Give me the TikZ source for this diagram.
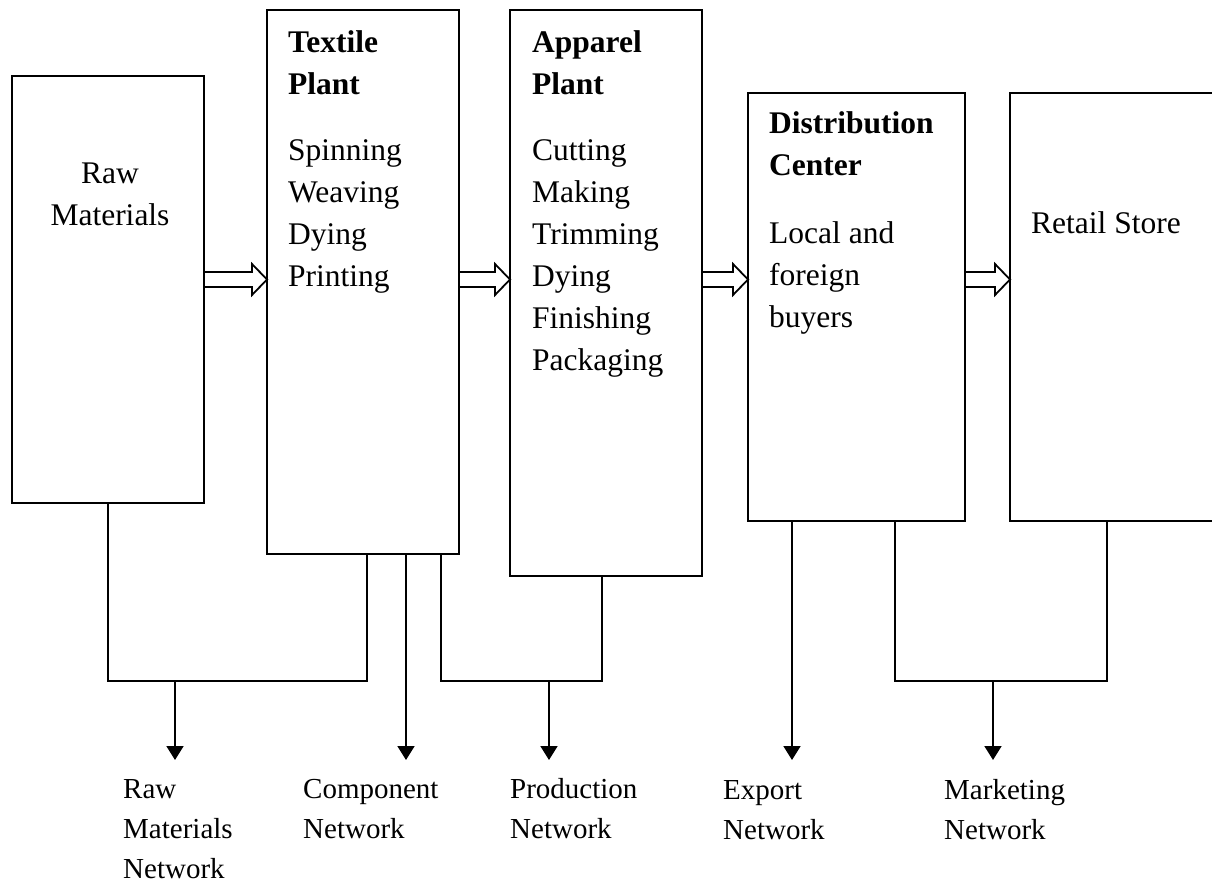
\documentclass[tikz,border=0pt]{standalone}
\usepackage{fontspec}
\setmainfont{Liberation Serif}
\usetikzlibrary{arrows.meta,calc}
% stacked lines, baseline of the node = baseline of the first line
\newcommand{\lines}[2][l]{\begin{tabular}[t]{@{}#1@{}}#2\end{tabular}}
% hollow block arrow from the right side of #1 to the left side of #2
\newcommand{\flow}[2]{%
  \draw[hollow] (#1.east |- 0,272)
    -- ($(#2.west |- 0,272)+(-15,0)$)
    -- ($(#2.west |- 0,264)+(-15,0)$)
    -- (#2.west |- 0,279.5)
    -- ($(#2.west |- 0,295)+(-15,0)$)
    -- ($(#2.west |- 0,287)+(-15,0)$)
    -- (#1.east |- 0,287);}

\begin{document}
\begin{tikzpicture}[x=1pt,y=-1pt,
  stage/.style={draw, line width=1.8pt, rectangle, anchor=north west, inner sep=0pt, outer sep=0pt},
  txt/.style={anchor=base west, inner sep=0pt, font=\fontsize{31.5}{42}\selectfont},
  head/.style={txt, font=\fontsize{31.5}{41.5}\selectfont\bfseries},
  lab/.style={txt, font=\fontsize{29}{40}\selectfont},
  link/.style={line width=1.8pt},
  netarrow/.style={link, -{Triangle[width=17pt,length=14pt]}},
  hollow/.style={line width=1.8pt, line join=miter}
]
\useasboundingbox (0,0) rectangle (1212,882);

% stage boxes
\node[stage, minimum width=192pt, minimum height=427pt] (raw) at (12,76) {};
\node[stage, minimum width=192pt, minimum height=544pt] (tex) at (267,10) {};
\node[stage, minimum width=192pt, minimum height=566pt] (app) at (510,10) {};
\node[stage, minimum width=217pt, minimum height=428pt] (dis) at (748,93) {};
\node[stage, minimum width=222pt, minimum height=428pt] (ret) at (1010,93) {};

% texts inside the boxes
\node[txt, anchor=base] (rawt) at (110,184) {\lines[c]{Raw\\Materials}};
\node[head] (texh) at (288,53) {\lines{Textile\\Plant}};
\node[txt] (texs) at (288,161) {\lines{Spinning\\Weaving\\Dying\\Printing}};
\node[head] (apph) at (532,53) {\lines{Apparel\\Plant}};
\node[txt] (apps) at (532,161) {\lines{Cutting\\Making\\Trimming\\Dying\\Finishing\\Packaging}};
\node[head] (dish) at (769,134) {\lines{Distribution\\Center}};
\node[txt] (diss) at (769,244) {\lines{Local and\\foreign\\buyers}};
\node[txt] (rett) at (1031,234) {Retail Store};

% flow between stages
\flow{raw}{tex}
\flow{tex}{app}
\flow{app}{dis}
\flow{dis}{ret}

% network outputs
\coordinate (nraw) at (175,760);
\coordinate (ncomp) at (406,760);
\coordinate (nprod) at (549,760);
\coordinate (nexp) at (792,760);
\coordinate (nmkt) at (993,760);

\draw[link] (raw.south) -- (108,681) -- (367,681) -- (tex.south -| 367,0);
\draw[netarrow] (175,681) -- (nraw);
\draw[netarrow] (tex.south -| ncomp) -- (ncomp);
\draw[link] (tex.south -| 441,0) -- (441,681) -- (602,681) -- (app.south -| 602,0);
\draw[netarrow] (549,681) -- (nprod);
\draw[netarrow] (dis.south -| nexp) -- (nexp);
\draw[link] (dis.south -| 895,0) -- (895,681) -- (1107,681) -- (ret.south -| 1107,0);
\draw[netarrow] (993,681) -- (nmkt);

% network labels
\node[lab] (lraw) at (123,798) {\lines{Raw\\Materials\\Network}};
\node[lab] (lcomp) at (303,798) {\lines{Component\\Network}};
\node[lab] (lprod) at (510,798) {\lines{Production\\Network}};
\node[lab] (lexp) at (723,799) {\lines{Export\\Network}};
\node[lab] (lmkt) at (944,799) {\lines{Marketing\\Network}};
\end{tikzpicture}
\end{document}
